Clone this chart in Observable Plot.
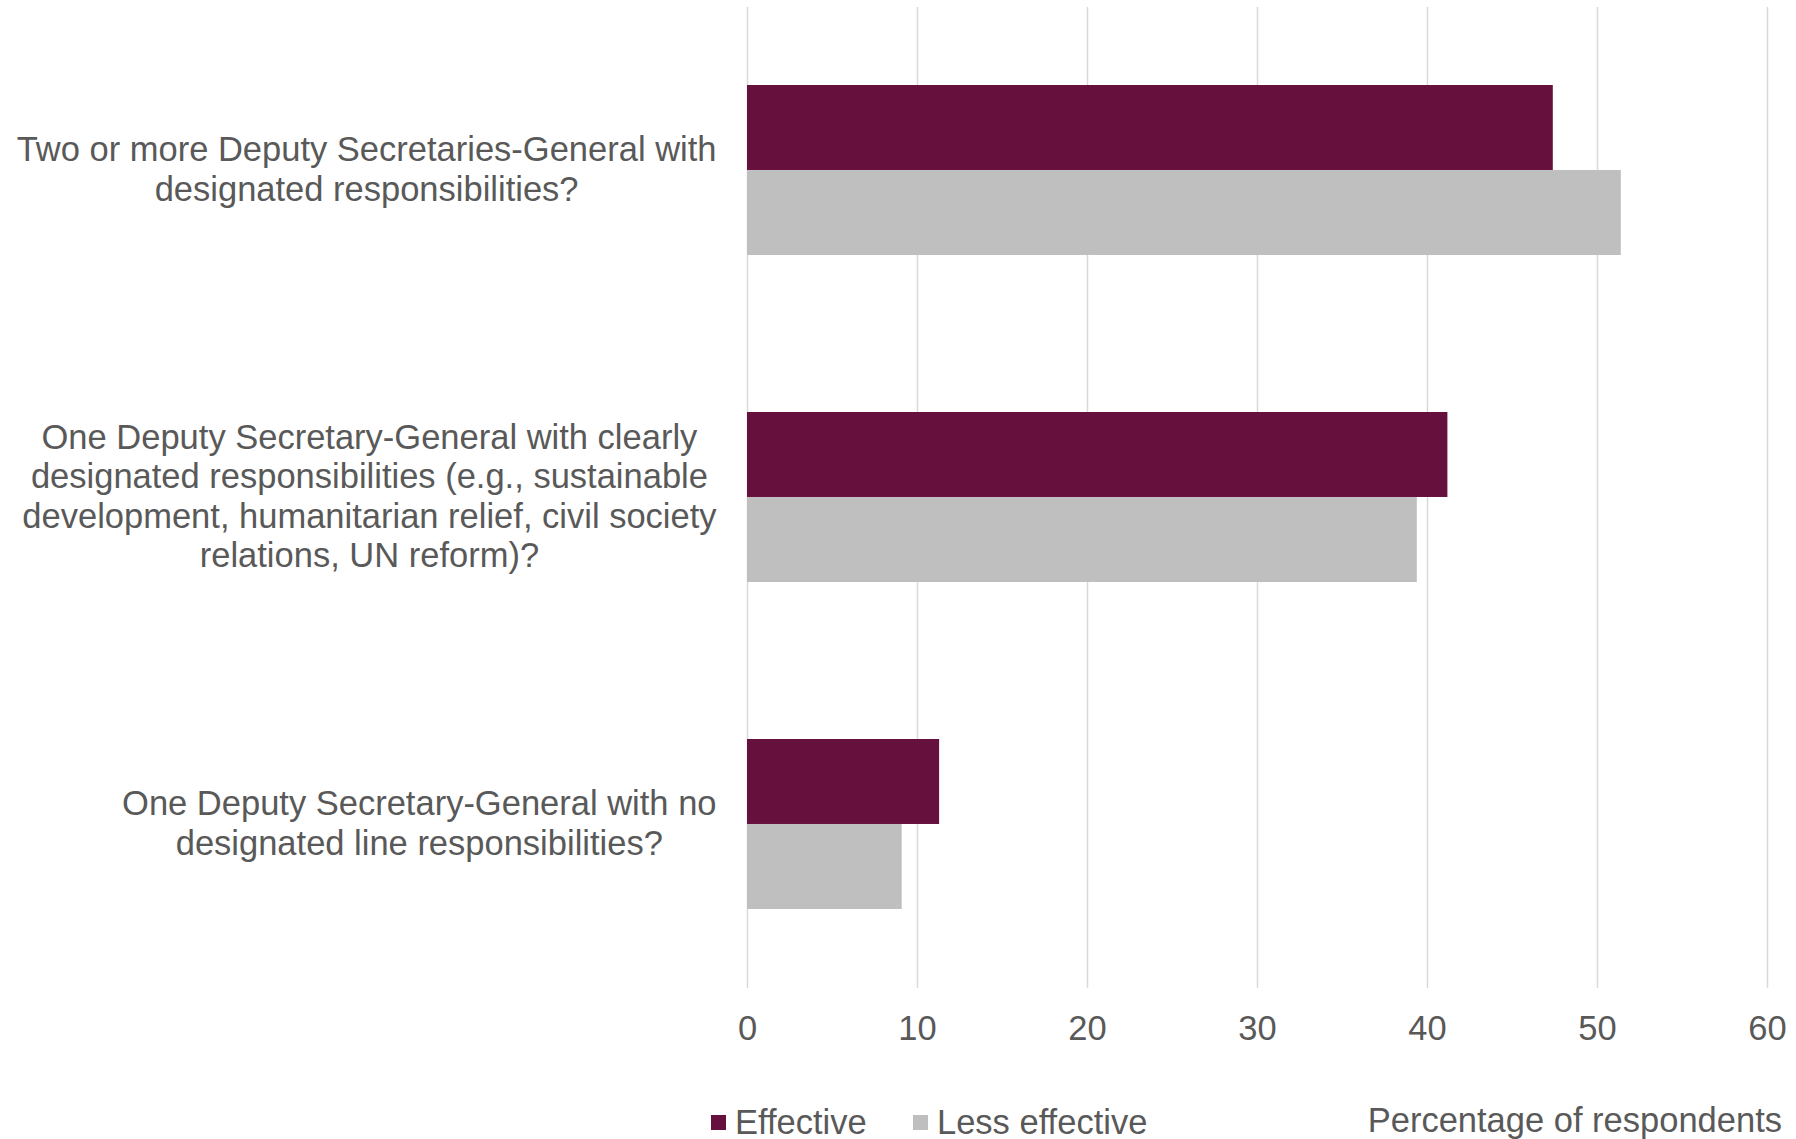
<!DOCTYPE html>
<html>
<head>
<meta charset="utf-8">
<script src="https://cdn.jsdelivr.net/npm/d3@7"></script>
<script src="https://cdn.jsdelivr.net/npm/@observablehq/plot@0.6"></script>
<style>
  html, body { margin: 0; padding: 0; background: #fff; }
  body { width: 1796px; height: 1139px; overflow: hidden; font-family: "Liberation Sans", Arial, sans-serif; color: #595959; }
  #legend { position: relative; width: 1796px; height: 79px; font-size: 34.5px; }
  .item { position: absolute; top: 45px; display: flex; align-items: center; white-space: nowrap; line-height: 35px; }
  .sw { width: 15px; height: 15px; margin-right: 9px; display: inline-block; }
  #xtitle { position: absolute; top: 43px; right: 14px; line-height: 35px; white-space: nowrap; }
</style>
</head>
<body>
<div id="chart"></div>
<div id="legend"></div>
<script>
const categories = [
  "Two or more Deputy Secretaries-General with\ndesignated responsibilities?",
  "One Deputy Secretary-General with clearly\ndesignated responsibilities (e.g., sustainable\ndevelopment, humanitarian relief, civil society\nrelations, UN reform)?",
  "One Deputy Secretary-General with no\ndesignated line responsibilities?"
];
const seriesNames = ["Effective", "Less effective"];
const seriesColors = ["#66103E", "#BFBFBF"];
const effective = [47.4, 41.2, 11.3];
const lessEffective = [51.4, 39.4, 9.1];
const xTicks = [0, 10, 20, 30, 40, 50, 60];
const xTitle = "Percentage of respondents";

const rows = categories.flatMap((c, i) => [
  {category: c, series: seriesNames[0], value: effective[i]},
  {category: c, series: seriesNames[1], value: lessEffective[i]}
]);

const W = 1796, H = 1060, mT = 7, mB = 72, mL = 747, mR = 29;
const pInner = 0.48, pOuter = 0.24;
const step = (H - mT - mB) / (categories.length - pInner + 2 * pOuter);
const half = step * (1 - pInner) / 2;
const fontSize = 34.5;
const fontFamily = "'Liberation Sans', Arial, sans-serif";

const ctx = document.createElement("canvas").getContext("2d");
ctx.font = `${fontSize}px ${fontFamily}`;
const blockWidth = s => Math.max(...s.split("\n").map(l => ctx.measureText(l).width));

const labelMarks = categories.map(c => Plot.text([c], {
  y: d => d,
  text: d => d,
  frameAnchor: "left",
  textAnchor: "middle",
  dx: -(31 + blockWidth(c) / 2),
  dy: -2,
  lineHeight: 1.14,
  fontSize: fontSize,
  fill: "#595959"
}));

const chart = Plot.plot({
  width: W,
  height: H,
  marginTop: mT,
  marginBottom: mB,
  marginLeft: mL,
  marginRight: mR,
  style: {fontFamily: fontFamily, fontSize: fontSize + "px", color: "#595959", background: "#fff"},
  x: {domain: [0, 60], ticks: xTicks, tickSize: 0, tickPadding: 27, label: null, tickFormat: d => String(d)},
  y: {domain: categories, paddingInner: pInner, paddingOuter: pOuter, axis: null},
  marks: [
    Plot.ruleX(xTicks, {stroke: "#D9D9D9", strokeWidth: 1.5}),
    Plot.barX(rows.filter(d => d.series === seriesNames[0]), {x: "value", y: "category", fill: seriesColors[0], insetBottom: half}),
    Plot.barX(rows.filter(d => d.series === seriesNames[1]), {x: "value", y: "category", fill: seriesColors[1], insetTop: half}),
    ...labelMarks
  ]
});
document.getElementById("chart").appendChild(chart);

const legend = document.getElementById("legend");
const lefts = [711, 913];
seriesNames.forEach((s, i) => {
  const it = document.createElement("div");
  it.className = "item";
  it.style.left = lefts[i] + "px";
  const sw = document.createElement("span");
  sw.className = "sw";
  sw.style.background = seriesColors[i];
  it.appendChild(sw);
  it.appendChild(document.createTextNode(s));
  legend.appendChild(it);
});
const t = document.createElement("div");
t.id = "xtitle";
t.textContent = xTitle;
legend.appendChild(t);
</script>
</body>
</html>
